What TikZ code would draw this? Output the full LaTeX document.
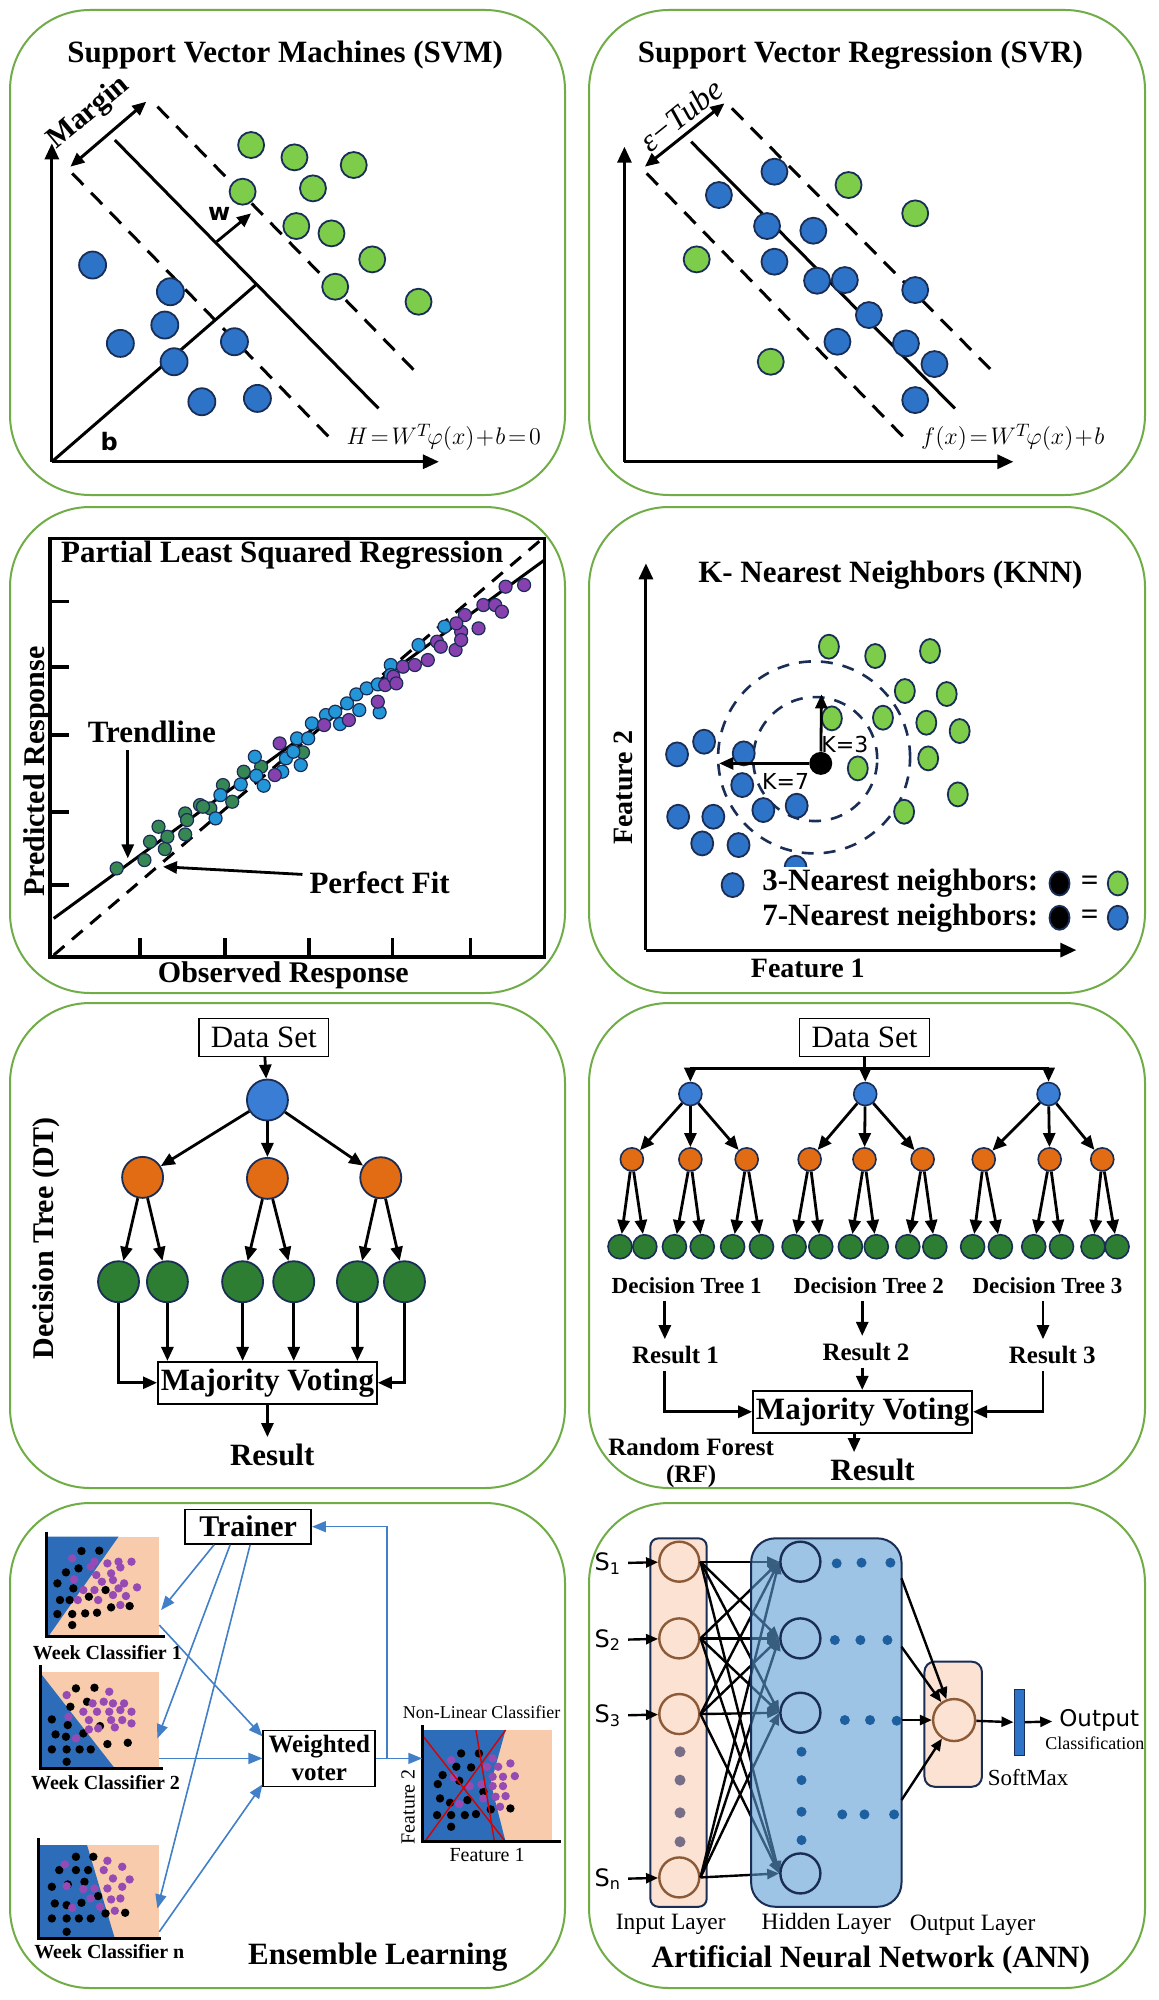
\documentclass[tikz,border=0pt]{standalone}
\usepackage{fontspec}
\setmainfont{Liberation Serif}
\newfontfamily\sansf{DejaVu Sans}
\usetikzlibrary{arrows.meta,shapes.geometric,positioning}

\definecolor{framegreen}{RGB}{112,173,71}
\definecolor{ptgreen}{RGB}{125,205,75}
\definecolor{ptblue}{RGB}{45,115,200}
\definecolor{navy}{RGB}{25,45,85}
\definecolor{dtblue}{RGB}{58,125,213}
\definecolor{dtorange}{RGB}{226,108,20}
\definecolor{dtgreen}{RGB}{45,125,50}
\definecolor{plsgreen}{RGB}{55,135,85}
\definecolor{plsblue}{RGB}{35,150,215}
\definecolor{plspurple}{RGB}{135,65,175}
\definecolor{peach}{RGB}{248,203,173}
\definecolor{regblue}{RGB}{45,108,185}
\definecolor{dotpurple}{RGB}{150,75,180}
\definecolor{linkblue}{RGB}{65,128,200}
\definecolor{lightpeach}{RGB}{251,226,210}
\definecolor{hidblue}{RGB}{92,155,213}
\definecolor{nbrown}{RGB}{140,90,55}
\definecolor{inputdot}{RGB}{120,110,135}
\definecolor{hiddot}{RGB}{30,95,160}

\tikzset{
  panelbox/.style={draw=framegreen,line width=1pt,rounded corners=40pt},
  zoomed/.style={x=0.1852pt,y=-0.1667pt},
  headtext/.style={font=\fontsize{15.5}{17}\selectfont\bfseries},
  ax/.style={line width=1.5pt,-{Triangle[length=8pt,width=7pt]}},
  arr/.style={line width=1.4pt,-{Triangle[length=7pt,width=6pt]}},
  dbl/.style={line width=1.5pt,{Triangle[length=7pt,width=6pt]}-{Triangle[length=7pt,width=6pt]}},
  dashln/.style={line width=1.5pt,dash pattern=on 8pt off 5.5pt},
  sdot/.style={circle,draw=navy,line width=0.9pt,inner sep=0pt,minimum size=13pt},
  kdot/.style={ellipse,draw=navy,line width=0.9pt,inner sep=0pt,minimum width=10pt,minimum height=12pt},
  pdot/.style={circle,draw=navy,line width=0.6pt,inner sep=0pt,minimum size=6.5pt},
  edot/.style={circle,inner sep=0pt,minimum size=4.2pt},
  dtnode/.style={circle,draw=navy,line width=0.9pt,inner sep=0pt,minimum size=20.5pt},
  rfnode/.style={circle,draw=navy,line width=0.8pt,inner sep=0pt,minimum size=11.5pt},
  txtbox/.style={draw,line width=0.8pt,inner xsep=6pt,minimum height=19pt,font=\fontsize{15.5}{17}\selectfont},
  votebox/.style={draw,line width=0.8pt,inner xsep=1.5pt,minimum height=21pt,font=\fontsize{15.5}{17}\selectfont\bfseries},
  wklab/.style={font=\fontsize{10}{11}\selectfont\bfseries},
  barr/.style={draw=linkblue,line width=0.8pt,-{Triangle[length=7pt,width=5.5pt]}},
  neuron/.style={circle,line width=1.2pt,inner sep=0pt,minimum size=20pt},
  nnarr/.style={line width=1.2pt,-{Triangle[length=6pt,width=5pt]}},
}

\begin{document}
\begin{tikzpicture}[x=0.5pt,y=-0.5pt]
\useasboundingbox (0,0) rectangle (1159,2000);
\fill[white] (0,0) rectangle (1159,2000);
\foreach \ya/\yb in {10/495,507/993,1003/1488,1503/1988}{
  \draw[panelbox] (10,\ya) rectangle (565,\yb);
  \draw[panelbox] (589,\ya) rectangle (1145,\yb);
}

%% SVM
\begin{scope}[zoomed]
\node[headtext] (svm) at (770,165) {Support Vector Machines (SVM)};
\coordinate (svmo) at (140,1385);
\coordinate (svmy) at (140,430);
\coordinate (svmx) at (1185,1385);
\draw[ax] (svmo) -- (svmy);
\draw[ax] (svmo) -- (svmx);
\draw[line width=1.5pt] (310,420) -- (1022,1225);
\draw[dashln] (425,320) -- (1135,1130);
\draw[dashln] (195,520) -- (905,1330);
\draw[dbl] (190,500) -- (395,305);
\node[rotate=40,font=\fontsize{15}{15}\selectfont\bfseries] (margin) at (240,340) {Margin};
\coordinate (w0) at (585,725);
\coordinate (w1) at (678,640);
\draw[arr] (w0) -- (w1);
\node[font=\sansf\bfseries\fontsize{12}{12}\selectfont] (wlab) at (592,642) {w};
\coordinate (bend) at (690,855);
\draw[line width=1.5pt] (svmo) -- (bend);
\node[font=\sansf\bfseries\fontsize{12}{12}\selectfont] (blab) at (295,1325) {b};
\node[font=\fontsize{12.5}{12.5}\selectfont,anchor=west,inner sep=0pt] (heq) at (935,1312) {$H\!=\!W^{T}\!\varphi(x)\!+\!b\!=\!0$};
\foreach \x/\y [count=\i] in {678/435,795/472,955/495,655/575,845/565,800/678,895/700,1005/778,905/860,1130/905}
  \node[sdot,fill=ptgreen] (sg\i) at (\x,\y) {};
\foreach \x/\y [count=\i] in {250/795,460/875,445/975,325/1030,633/1025,470/1085,545/1205,695/1195}
  \node[sdot,fill=ptblue,minimum size=13.5pt] (sb\i) at (\x,\y) {};
\end{scope}

%% SVR
\begin{scope}[shift={(580,0)},zoomed]
\node[headtext] (svr) at (757,165) {Support Vector Regression (SVR)};
\coordinate (svro) at (120,1385);
\coordinate (svry) at (120,440);
\coordinate (svrx) at (1170,1385);
\draw[ax] (svro) -- (svry);
\draw[ax] (svro) -- (svrx);
\draw[line width=1.5pt] (300,425) -- (1012,1225);
\draw[dashln] (410,325) -- (1128,1130);
\draw[dashln] (180,520) -- (890,1330);
\draw[dbl] (175,500) -- (390,310);
\node[rotate=39,font=\fontsize{16}{16}\selectfont\itshape] (tube) at (272,345) {ε−Tube};
\node[font=\fontsize{12.5}{12.5}\selectfont,anchor=west,inner sep=0pt] (feq) at (920,1312) {$f(x)\!=\!W^{T}\!\varphi(x)\!+\!b$};
\foreach \x/\y [count=\i] in {525/515,375/585,505/678,630/692,525/785,640/842,715/840,905/870,780/945,695/1025,880/1030,957/1092,905/1200}
  \node[sdot,fill=ptblue] (rb\i) at (\x,\y) {};
\foreach \x/\y [count=\i] in {725/555,905/640,315/778,515/1085}
  \node[sdot,fill=ptgreen] (rg\i) at (\x,\y) {};
\end{scope}

%% PLS
\begin{scope}[shift={(0,495)},zoomed]
\draw[line width=1.8pt] (135,130) rectangle (1470,1385);
\foreach \y in {320,515,720,950,1170} \draw[line width=1.8pt] (135,\y) -- (185,\y);
\foreach \x in {378,608,835,1060,1270} \draw[line width=1.8pt] (\x,1385) -- (\x,1330);
\node[headtext] (pls) at (762,180) {Partial Least Squared Regression};
\draw[line width=1.5pt,dash pattern=on 7pt off 5pt] (145,1380) -- (1460,135);
\draw[line width=1.5pt] (145,1270) -- (1470,195);
\foreach \x/\y in {315/1120,390/1095,405/1040,428/995,452/1025,445/1062,500/955,500/1018,505/975,540/930,568/940,602/870,627/920,658/830,705/815,818/772,548/935}
  \node[pdot,fill=plsgreen] at (\x,\y) {};
\foreach \x/\y in {582/970,595/900,650/868,688/785,692/842,712/872,762/830,772/790,792/770,802/730,812/810,832/730,842/685,880/660,905/650,918/687,937/625,962/598,970/645,990/580,1020/568,1025/652,1055/510,1130/450,1200/395,1055/540}
  \node[pdot,fill=plsblue] at (\x,\y) {};
\foreach \x/\y in {755/745,742/840,875/690,942/675,1020/620,1040/570,1062/545,1070/565,1088/515,1120/510,1155/495,1180/440,1190/455,1230/465,1245/410,1245/435,1255/360,1292/400,1305/330,1337/330,1355/350,1365/275,1415/270,1232/385}
  \node[pdot,fill=plspurple] at (\x,\y) {};
\node[headtext] (trend) at (410,712) {Trendline};
\node[headtext] (pfit) at (1025,1162) {Perfect Fit};
\coordinate (trtip) at (345,1090);
\coordinate (pftip) at (440,1115);
\draw[arr] (trend.south -| trtip) -- (trtip);
\draw[arr] ([yshift=4pt]pfit.west) -- (pftip);
\node[headtext,rotate=90,font=\fontsize{15}{15}\selectfont\bfseries] (ylab) at (100,830) {Predicted Response};
\node[headtext,font=\fontsize{15}{15}\selectfont\bfseries] (xlab) at (765,1440) {Observed Response};
\end{scope}

%% KNN
\begin{scope}[shift={(580,495)},zoomed]
\node[headtext] (knn) at (838,240) {K- Nearest Neighbors (KNN)};
\coordinate (knno) at (178,1365);
\coordinate (knny) at (178,205);
\coordinate (knnx) at (1340,1365);
\draw[ax] (knno) -- (knny);
\draw[ax] (knno) -- (knnx);
\node[rotate=90,font=\fontsize{14}{14}\selectfont\bfseries] (f2) at (118,878) {Feature 2};
\node[font=\fontsize{14}{14}\selectfont\bfseries] (f1) at (615,1420) {Feature 1};
\draw[navy,line width=1.3pt,dash pattern=on 6pt off 5pt] (635,792) circle[radius=31pt];
\draw[navy,line width=1.3pt,dash pattern=on 6pt off 5pt] (632,787) circle[radius=48pt];
\foreach \x/\y [count=\i] in {672/455,797/483,945/468,877/588,990/597,818/668,935/683,1025/708,680/670,940/790,750/820,1020/898,875/950}
  \node[kdot,fill=ptgreen] (kg\i) at (\x,\y) {};
\foreach \x/\y [count=\i] in {262/778,335/740,442/775,438/870,265/965,360/965,495/945,585/932,330/1045,428/1050,582/1118,412/1170}
  \node[kdot,fill=ptblue,minimum width=11pt] (kb\i) at (\x,\y) {};
\node[circle,fill=black,inner sep=0pt,minimum size=11.5pt] (kq) at (650,805) {};
\coordinate (k3tip) at (652,598);
\coordinate (k7tip) at (376,805);
\draw[arr] (kq) -- (k3tip);
\draw[arr] (kq) -- (k7tip);
\node[font=\sansf\fontsize{11}{11}\selectfont] (k3) at (715,748) {K=3};
\node[font=\sansf\fontsize{11}{11}\selectfont] (k7) at (555,858) {K=7};
\node[headtext,anchor=west,fill=white,inner sep=1pt] (l3) at (486,1165) {3-Nearest neighbors:};
\node[kdot,fill=black,right=4pt of l3] (lk3) {};
\node[headtext,inner sep=0pt,right=5pt of lk3] (eq3) {=};
\node[kdot,fill=ptgreen,right=4pt of eq3] (lg3) {};
\node[headtext,anchor=west,inner sep=1pt] (l7) at (486,1268) {7-Nearest neighbors:};
\node[kdot,fill=black,right=4pt of l7] (lk7) {};
\node[headtext,inner sep=0pt,right=5pt of lk7] (eq7) {=};
\node[kdot,fill=ptblue,right=4pt of eq7] (lb7) {};
\end{scope}

%% Decision tree
\begin{scope}[shift={(0,990)},zoomed]
\node[txtbox] (ds1) at (712,142) {Data Set};
\node[dtnode,fill=dtblue] (root) at (722,330) {};
\node[dtnode,fill=dtorange] (na) at (385,562) {};
\node[dtnode,fill=dtorange] (nb) at (722,565) {};
\node[dtnode,fill=dtorange] (nc) at (1028,563) {};
\foreach \n/\x in {a1/320,a2/452,b1/655,b2/793,c1/965,c2/1092}
  \node[dtnode,fill=dtgreen] (l\n) at (\x,875) {};
\node[votebox] (mv1) at (722,1178) {Majority Voting};
\node[headtext] (res1) at (735,1395) {Result};
\node[rotate=90,font=\fontsize{15}{15}\selectfont\bfseries] (dtlab) at (125,745) {Decision Tree (DT)};
\draw[arr] (ds1) -- (root);
\foreach \n in {na,nb,nc} \draw[arr] (root) -- (\n);
\foreach \p/\c in {na/la1,na/la2,nb/lb1,nb/lb2,nc/lc1,nc/lc2} \draw[arr] (\p) -- (\c);
\foreach \n in {la2,lb1,lb2,lc1} \draw[arr] (\n) -- (\n |- mv1.north);
\draw[arr] (la1) |- (mv1.west);
\draw[arr] (lc2) |- (mv1.east);
\draw[arr] (mv1.south) -- (mv1.south |- res1.north);
\end{scope}

%% Random forest
\begin{scope}[shift={(580,990)},zoomed]
\node[txtbox] (ds2) at (768,142) {Data Set};
\coordinate (rfbar) at (768,235);
\foreach \i/\x in {1/298,2/770,3/1265} \node[rfnode,fill=dtblue] (rt\i) at (\x,312) {};
\draw[line width=1.4pt] (ds2) -- (rfbar);
\draw[line width=1.4pt] (rt1 |- rfbar) -- (rt3 |- rfbar);
\foreach \i in {1,2,3} \draw[arr] (rt\i |- rfbar) -- (rt\i);
\foreach \t/\j/\x/\la/\lb in {1/1/140/108/175,1/2/298/255/330,1/3/450/412/490,2/1/620/578/650,2/2/768/730/800,2/3/925/885/958,3/1/1090/1060/1135,3/2/1268/1225/1300,3/3/1410/1385/1450}{
  \node[rfnode,fill=dtorange] (ro\t\j) at (\x,508) {};
  \node[rfnode,fill=dtgreen,minimum size=12pt] (rla\t\j) at (\la,770) {};
  \node[rfnode,fill=dtgreen,minimum size=12pt] (rlb\t\j) at (\lb,770) {};
  \draw[arr] (rt\t) -- (ro\t\j);
  \draw[arr] (ro\t\j) -- (rla\t\j);
  \draw[arr] (ro\t\j) -- (rlb\t\j);
}
\foreach \i/\x in {1/288,2/780,3/1262}
  \node[font=\fontsize{11.5}{12}\selectfont\bfseries] (dt\i) at (\x,887) {Decision Tree \i};
\node[font=\fontsize{12.5}{13}\selectfont\bfseries] (rr1) at (258,1095) {Result 1};
\node[font=\fontsize{12.5}{13}\selectfont\bfseries] (rr2) at (772,1085) {Result 2};
\node[font=\fontsize{12.5}{13}\selectfont\bfseries] (rr3) at (1275,1095) {Result 3};
\node[votebox] (mv2) at (763,1265) {Majority Voting};
\node[headtext] (res2) at (790,1440) {Result};
\node[font=\fontsize{12.5}{13.3}\selectfont\bfseries,align=center] (rflab) at (300,1418) {Random Forest\\(RF)};
\coordinate (c1) at (229,0);
\coordinate (c2) at (762,0);
\coordinate (c3) at (1250,0);
\coordinate (c4) at (740,0);
\draw[arr] (c1 |- dt1.south) -- (c1 |- rr1.north);
\draw[arr] (c2 |- dt2.south) -- (c2 |- rr2.north);
\draw[arr] (c3 |- dt3.south) -- (c3 |- rr3.north);
\draw[arr] (c1 |- rr1.south) |- (mv2.west);
\draw[arr] (c2 |- rr2.south) -- (c2 |- mv2.north);
\draw[arr] (c3 |- rr3.south) |- (mv2.east);
\draw[arr] (c4 |- mv2.south) -- (c4 |- res2.north);
\end{scope}

%% Ensemble learning
\begin{scope}[shift={(0,1490)},zoomed]
\node[draw,line width=0.8pt,font=\fontsize{15}{15}\selectfont\bfseries,minimum width=63pt,minimum height=16.5pt] (trainer) at (670,110) {Trainer};
% weak classifier 1
\fill[peach] (125,140) rectangle (430,440);
\fill[regblue] (125,140) -- (320,140) -- (130,440) -- cycle;
\foreach \x/\y in {220/183,268/182,178/247,212/235,155/280,198/295,162/330,188/330,240/320,285/300,300/352,350/348,155/372,195/372,230/370,262/368,195/405}
  \node[edot,fill=black] at (\x,\y) {};
\foreach \x/\y in {195/205,255/215,290/220,320/215,355/215,245/230,200/268,260/255,300/250,325/232,275/275,305/270,335/280,370/292,225/300,255/300,320/295,305/315,340/318,265/330,325/345,210/330}
  \node[edot,fill=dotpurple] at (\x,\y) {};
\draw[line width=1.6pt] (125,125) -- (125,440) -- (445,440);
\node[wklab] (wk1) at (290,487) {Week Classifier 1};
% weak classifier 2
\fill[peach] (110,545) rectangle (430,835);
\fill[regblue] (110,550) -- (310,835) -- (110,835) -- cycle;
\foreach \x/\y in {205/595,255/593,235/635,190/650,140/688,183/705,270/708,150/733,178/740,225/730,290/762,345/758,140/778,180/778,215/778,245/778,180/815}
  \node[edot,fill=black] at (\x,\y) {};
\foreach \x/\y in {180/615,295/605,250/640,280/635,305/640,335/640,225/665,262/665,295/665,325/660,355/665,185/680,240/690,300/690,330/690,355/700,265/715,310/712,205/745,240/718}
  \node[edot,fill=dotpurple] at (\x,\y) {};
\draw[line width=1.6pt] (110,525) -- (110,835) -- (440,835);
\node[wklab] (wk2) at (285,878) {Week Classifier 2};
% weak classifier n
\fill[peach] (105,1065) rectangle (430,1345);
\fill[regblue] (105,1065) -- (235,1065) -- (310,1345) -- (105,1345) -- cycle;
\foreach \x/\y in {205/1100,252/1100,160/1140,205/1140,238/1140,140/1190,183/1183,228/1175,265/1218,148/1240,180/1245,220/1238,285/1270,338/1268,140/1285,180/1285,213/1285,245/1285,180/1325}
  \node[edot,fill=black] at (\x,\y) {};
\foreach \x/\y in {175/1123,290/1112,330/1130,280/1140,305/1165,350/1168,180/1188,225/1197,255/1195,290/1195,330/1190,195/1253,245/1225,270/1250,300/1228,325/1225,310/1262}
  \node[edot,fill=dotpurple] at (\x,\y) {};
\draw[line width=1.6pt] (105,1045) -- (105,1345) -- (435,1345);
\node[wklab] (wkn) at (295,1385) {Week Classifier n};
% non-linear classifier
\fill[peach] (1140,720) rectangle (1490,1055);
\fill[regblue] (1140,720) -- (1365,720) -- (1325,880) -- (1365,1055) -- (1140,1055) -- cycle;
\foreach \x/\y in {1245/790,1293/790,1232/830,1272/832,1195/855,1182/882,1240/872,1305/905,1188/925,1215/938,1262/930,1180/975,1218/975,1255/975,1285/972,1325/958,1378/955,1218/1010}
  \node[edot,fill=black] at (\x,\y) {};
\foreach \x/\y in {1218/810,1330/805,1315/830,1345/830,1378/820,1225/862,1268/888,1300/883,1330/860,1358/860,1390/858,1330/888,1358/888,1240/942,1305/925,1338/920,1365/918,1350/950}
  \node[edot,fill=dotpurple] at (\x,\y) {};
\draw[red!85!black,line width=0.7pt] (1140,735) -- (1365,1055);
\draw[red!85!black,line width=0.7pt] (1150,1050) -- (1365,720);
\draw[red!85!black,line width=0.7pt] (1285,720) -- (1335,1055);
\draw[line width=1.6pt] (1140,705) -- (1140,1055) -- (1515,1055);
\node[font=\fontsize{9}{9}\selectfont] (nlc) at (1300,668) {Non-Linear Classifier};
\node[font=\fontsize{10}{10}\selectfont,rotate=90] (nf2) at (1102,950) {Feature 2};
\node[font=\fontsize{10}{10}\selectfont] (nf1) at (1315,1095) {Feature 1};
\node[draw,line width=0.8pt,align=center,font=\fontsize{12.5}{14}\selectfont\bfseries,minimum width=56pt,minimum height=28pt,inner sep=1pt] (voter) at (862,805) {Weighted\\voter};
\coordinate (p1in) at (435,360);
\coordinate (p2in) at (425,745);
\coordinate (pnin) at (425,1255);
\coordinate (p1out) at (430,405);
\coordinate (p2out) at (430,805);
\coordinate (pnout) at (430,1325);
\coordinate (nlin) at (1140,805);
\coordinate (fb) at (1045,805);
\draw[barr] ([xshift=-17pt]trainer.south) -- (p1in);
\draw[barr] ([xshift=-9pt]trainer.south) -- (p2in);
\draw[barr] ([xshift=1pt]trainer.south) -- (pnin);
\draw[barr] (p1out) -- ([yshift=11pt]voter.west);
\draw[barr] (p2out) -- (voter.west);
\draw[barr] (pnout) -- ([yshift=-13pt]voter.west);
\draw[barr] (voter.east) -- (nlin);
\draw[barr] (fb) |- (trainer.east);
\node[headtext] (ens) at (1020,1400) {Ensemble Learning};
\end{scope}

%% ANN
\begin{scope}[shift={(580,1490)},zoomed]
\draw[navy,line width=1pt,fill=lightpeach,rounded corners=4pt] (190,145) rectangle (342,1250);
\draw[navy,line width=1pt,fill=lightpeach,rounded corners=5pt] (930,515) rectangle (1085,890);
\foreach \i/\y in {1/215,2/445,3/672,4/1162}
  \node[neuron,draw=nbrown,fill=lightpeach] (in\i) at (268,\y) {};
\foreach \y in {785,870,968,1055}
  \node[circle,fill=inputdot,inner sep=0pt,minimum size=5.5pt] at (270,\y) {};
\foreach \i/\y in {1/215,2/445,3/668,4/1150}
  \node[neuron] (h\i) at (595,\y) {};
\node[neuron,draw=nbrown,fill=lightpeach,minimum size=21pt] (onode) at (1010,690) {};
\foreach \i/\s/\y in {1/1/220,2/2/450,3/3/677,4/n/1167}{
  \node[font=\sansf\fontsize{12}{12}\selectfont] (s\i) at (75,\y) {S\textsubscript{\s}};
  \draw[nnarr] (s\i) -- (in\i);
}
\foreach \i in {1,...,4}
  \foreach \j in {1,...,4}
    \draw[nnarr] (in\i.east) -- (h\j.west);
\draw[navy,line width=1pt,fill=hidblue,fill opacity=0.6,rounded corners=12pt] (462,145) rectangle (868,1250);
\foreach \i in {1,...,4} \draw[navy,line width=1.2pt] (h\i) circle[radius=10pt];
\foreach \x/\y in {693/220,760/218,838/218,688/450,757/450,830/450,715/690,783/690,855/692,708/973,768/973,848/973,598/785,598/870,598/965,598/1050}
  \node[circle,fill=hiddot,inner sep=0pt,minimum size=5pt] at (\x,\y) {};
\foreach \i/\y in {1/265,2/470,3/690,4/930}{
  \coordinate (e\i) at (868,\y);
  \draw[nnarr] (e\i) -- (onode);
}
\node[draw=navy,fill=ptblue,line width=0.8pt,inner sep=0pt,minimum width=5pt,minimum height=33pt] (smx) at (1186,697) {};
\node[font=\sansf\fontsize{11.5}{11.5}\selectfont,anchor=west] (outp) at (1275,690) {Output};
\draw[nnarr] (onode) -- (smx);
\draw[nnarr] (smx) -- (outp);
\node[font=\fontsize{9}{9}\selectfont] (cls) at (1390,760) {Classification};
\node[font=\fontsize{11.5}{11.5}\selectfont] (smlab) at (1210,862) {SoftMax};
\node[font=\fontsize{11.7}{11.7}\selectfont] (inl) at (245,1302) {Input Layer};
\node[font=\fontsize{11.7}{11.7}\selectfont] (hidl) at (665,1300) {Hidden Layer};
\node[font=\fontsize{11.7}{11.7}\selectfont] (outl) at (1060,1305) {Output Layer};
\node[headtext] (ann) at (785,1410) {Artificial Neural Network (ANN)};
\end{scope}
\end{tikzpicture}
\end{document}
